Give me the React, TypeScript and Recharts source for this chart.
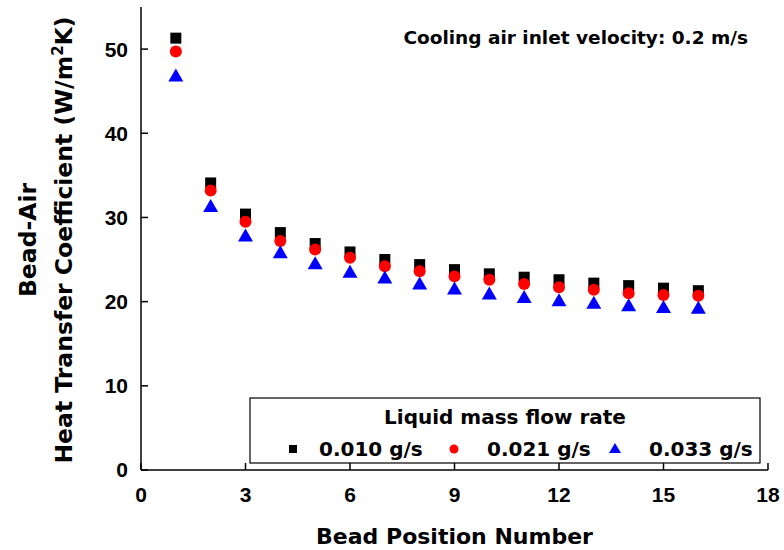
import { ScatterChart, Scatter, XAxis, YAxis } from "recharts"

const positions = [1, 2, 3, 4, 5, 6, 7, 8, 9, 10, 11, 12, 13, 14, 15, 16]
const flow010 = [51.3, 34.1, 30.4, 28.2, 26.9, 25.9, 25.0, 24.4, 23.8, 23.3, 22.9, 22.6, 22.2, 21.9, 21.6, 21.3]
const flow021 = [49.7, 33.2, 29.5, 27.2, 26.2, 25.2, 24.2, 23.6, 23.0, 22.6, 22.1, 21.7, 21.4, 21.0, 20.8, 20.7]
const flow033 = [46.8, 31.3, 27.8, 25.8, 24.5, 23.5, 22.8, 22.1, 21.5, 20.9, 20.5, 20.1, 19.8, 19.5, 19.3, 19.2]
const xTicks = [0, 3, 6, 9, 12, 15, 18]
const yTicks = [0, 10, 20, 30, 40, 50]

const toPoints = (vals: number[]) => vals.map((v, i) => ({ x: positions[i], y: v }))

const TICK_FONT = "'Liberation Sans', Arial, sans-serif"
const TEXT_FONT = "'DejaVu Sans', sans-serif"

const Square = (p: any) => <rect x={p.cx - 5.5} y={p.cy - 5.5} width={11} height={11} fill="#000000" />
const Dot = (p: any) => <circle cx={p.cx} cy={p.cy} r={6} fill="#ff0000" />
const Tri = (p: any) => (
  <polygon points={`${p.cx},${p.cy - 7.5} ${p.cx - 7.5},${p.cy + 5.5} ${p.cx + 7.5},${p.cy + 5.5}`} fill="#0000ff" />
)

const tickStyle = { fill: "#000", fontFamily: TICK_FONT, fontWeight: 700, fontSize: 21 }
const axisLine = { stroke: "#000", strokeWidth: 1.5 }

const YTitle = () => (
  <g fontFamily={TEXT_FONT} fontWeight="bold" fontSize={23.5} fill="#000">
    <text transform="translate(36,240) rotate(-90)" textAnchor="middle">Bead-Air</text>
    <text transform="translate(72,240) rotate(-90)" textAnchor="middle">
      Heat Transfer Coefficient (W/m<tspan dy={-9} fontSize={15}>2</tspan>
      <tspan dy={9}>K)</tspan>
    </text>
  </g>
)

export default function App() {
  return (
    <div style={{ position: "absolute", left: 0, top: 0, width: 784, height: 550, background: "#fff" }}>
      <ScatterChart width={784} height={550} margin={{ top: 7, right: 16, bottom: 0, left: 0 }}>
        <XAxis
          type="number"
          dataKey="x"
          domain={[0, 18]}
          ticks={xTicks}
          tick={tickStyle}
          tickSize={-7}
          tickMargin={24}
          tickLine={axisLine}
          axisLine={axisLine}
          height={80}
          label={{
            value: "Bead Position Number",
            position: "insideBottom",
            offset: 6,
            style: { fill: "#000", fontFamily: TEXT_FONT, fontWeight: "bold", fontSize: 22 },
          }}
        />
        <XAxis
          xAxisId="top"
          orientation="top"
          type="number"
          domain={[0, 18]}
          ticks={xTicks}
          tickFormatter={() => ""}
          tickSize={-7}
          tickLine={axisLine}
          axisLine={axisLine}
          height={0}
        />
        <YAxis
          type="number"
          dataKey="y"
          domain={[0, 55]}
          ticks={yTicks}
          tick={tickStyle}
          tickSize={-7}
          tickMargin={20}
          tickLine={axisLine}
          axisLine={axisLine}
          width={141}
          label={{ content: YTitle }}
        />
        <YAxis
          yAxisId="right"
          orientation="right"
          type="number"
          domain={[0, 55]}
          ticks={yTicks}
          tickFormatter={() => ""}
          tickSize={-7}
          tickLine={axisLine}
          axisLine={axisLine}
          width={0}
        />
        <Scatter name="0.010 g/s" data={toPoints(flow010)} shape={Square} isAnimationActive={false} />
        <Scatter name="0.021 g/s" data={toPoints(flow021)} shape={Dot} isAnimationActive={false} />
        <Scatter name="0.033 g/s" data={toPoints(flow033)} shape={Tri} isAnimationActive={false} />
      </ScatterChart>
      <svg width={784} height={550} style={{ position: "absolute", left: 0, top: 0, pointerEvents: "none" }}>
        <text x={748} y={44} textAnchor="end" fontFamily={TEXT_FONT} fontWeight="bold" fontSize={18.5} fill="#000">
          Cooling air inlet velocity: 0.2 m/s
        </text>
        <rect x={250} y={398} width={510} height={65} fill="#fff" stroke="#000" strokeWidth={1.2} />
        <g fontFamily={TEXT_FONT} fontWeight="bold" fontSize={20} fill="#000">
          <text x={505} y={424} textAnchor="middle">Liquid mass flow rate</text>
          <rect x={289} y={445} width={8} height={8} fill="#000" />
          <text x={319} y={456}>0.010 g/s</text>
          <circle cx={454} cy={449} r={4.5} fill="#ff0000" />
          <text x={487} y={456}>0.021 g/s</text>
          <polygon points="615,443 609,453 621,453" fill="#0000ff" />
          <text x={649} y={456}>0.033 g/s</text>
        </g>
      </svg>
    </div>
  )
}
